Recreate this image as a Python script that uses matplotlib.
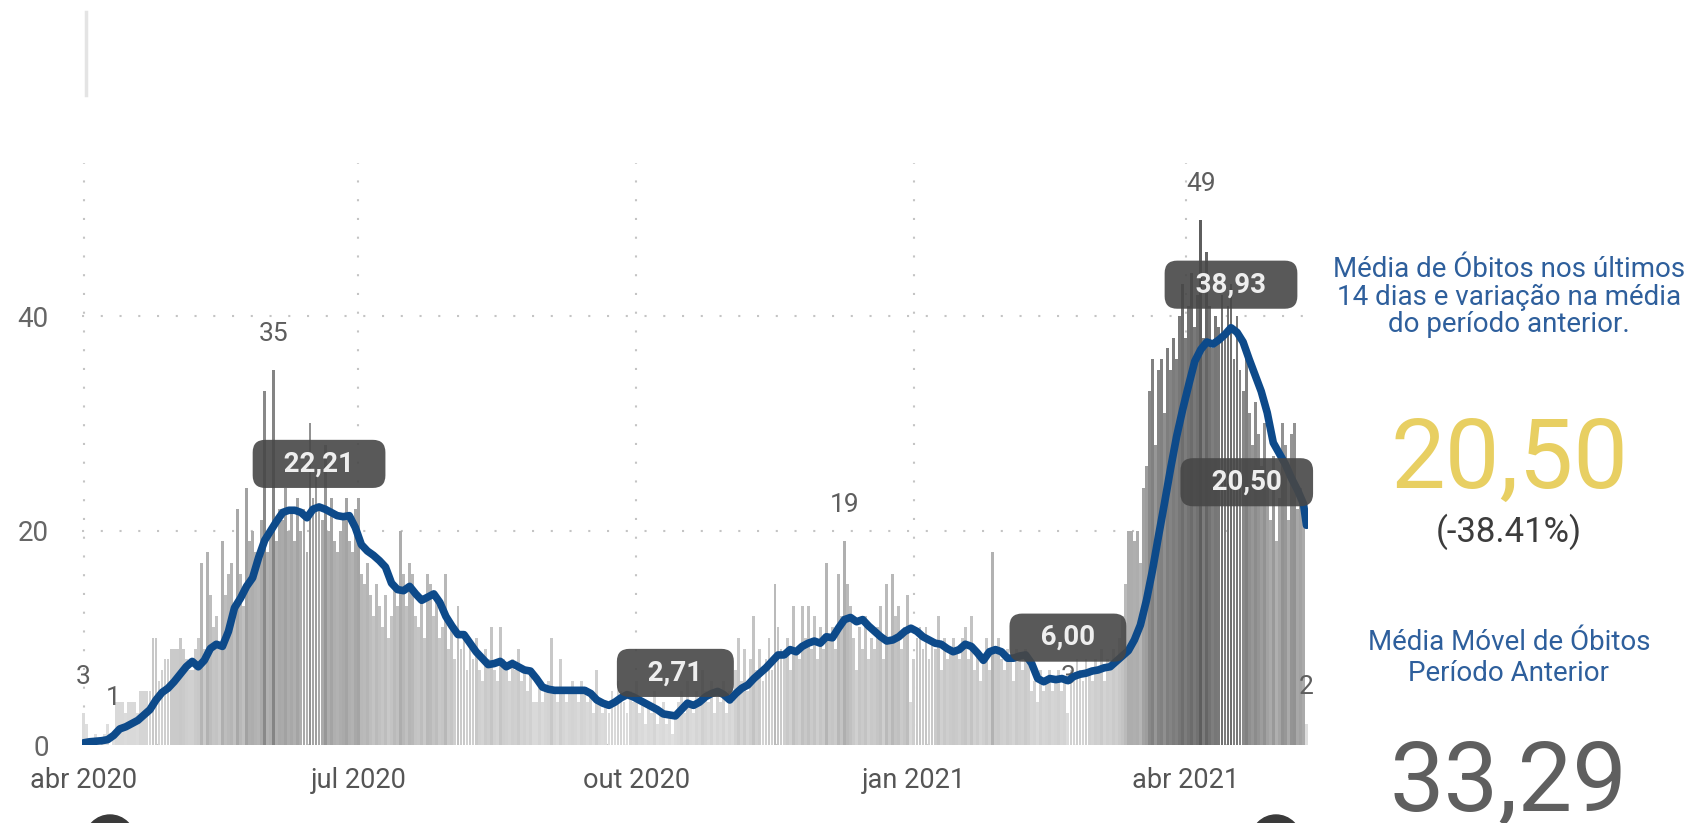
"""
Daily deaths with 14-day moving average (Power BI style panel)
"""
import pandas as pd
import matplotlib
matplotlib.use("Agg")
import matplotlib.pyplot as plt
from matplotlib.colors import LinearSegmentedColormap, Normalize
from matplotlib.patches import Circle
from matplotlib.lines import Line2D

plt.rcParams['font.family'] = ['Roboto', 'DejaVu Sans']

# ---- data -------------------------------------------------------------
start_date = "2020-04-01"

# daily deaths, one row per week
daily_deaths = [
    3, 2, 0, 0, 1, 0, 0,
    1, 2, 0, 1, 4, 4, 4,
    3, 4, 4, 4, 3, 5, 5,
    5, 5, 10, 10, 6, 7, 8,
    8, 9, 9, 9, 10, 9, 8,
    7, 7, 9, 10, 17, 9, 18,
    14, 11, 12, 9, 19, 14, 16,
    17, 13, 22, 16, 13, 24, 19,
    20, 18, 17, 21, 33, 18, 20,
    35, 19, 22, 21, 24, 20, 22,
    19, 23, 20, 22, 18, 30, 23,
    25, 22, 21, 28, 20, 23, 19,
    18, 20, 21, 23, 19, 18, 22,
    23, 16, 15, 17, 14, 12, 15,
    13, 11, 14, 10, 12, 15, 13,
    20, 16, 13, 17, 16, 12, 11,
    14, 10, 16, 15, 12, 14, 10,
    11, 16, 9, 11, 8, 13, 9,
    10, 7, 9, 8, 10, 7, 6,
    9, 8, 11, 7, 6, 11, 8,
    7, 6, 8, 7, 9, 6, 7,
    5, 7, 4, 4, 6, 4, 5,
    6, 10, 5, 4, 8, 5, 4,
    5, 6, 5, 4, 6, 5, 4,
    5, 3, 7, 4, 3, 4, 3,
    5, 4, 6, 5, 4, 3, 5,
    4, 6, 3, 4, 2, 4, 3,
    5, 2, 3, 4, 2, 3, 1,
    3, 4, 5, 3, 6, 4, 3,
    5, 4, 7, 5, 4, 6, 3,
    5, 4, 6, 3, 5, 4, 7,
    10, 6, 9, 5, 8, 12, 7,
    9, 6, 8, 10, 7, 15, 11,
    9, 8, 10, 7, 13, 9, 8,
    13, 10, 13, 9, 12, 8, 11,
    9, 17, 10, 11, 9, 16, 12,
    19, 15, 13, 10, 7, 11, 9,
    12, 8, 10, 9, 11, 13, 8,
    15, 10, 16, 12, 13, 9, 11,
    14, 4, 8, 10, 11, 9, 11,
    8, 10, 9, 12, 7, 10, 8,
    9, 10, 9, 8, 10, 11, 8,
    12, 7, 9, 6, 8, 10, 7,
    18, 9, 10, 8, 7, 9, 8,
    6, 9, 8, 7, 9, 8, 5,
    6, 4, 7, 5, 6, 7, 5,
    6, 7, 5, 6, 3, 7, 6,
    8, 7, 6, 8, 7, 6, 8,
    7, 9, 6, 8, 7, 9, 8,
    10, 12, 15, 20, 20, 19, 20,
    17, 24, 26, 33, 36, 28, 35,
    36, 31, 37, 35, 38, 36, 40,
    43, 38, 41, 44, 39, 42, 49,
    38, 46, 41, 37, 40, 39, 42,
    38, 41, 43, 36, 40, 35, 33,
    36, 31, 28, 32, 29, 26, 30,
    24, 21, 27, 19, 23, 30, 28,
    21, 29, 30, 22, 24, 21, 2,
]

# 14-day moving average, read every second day (plus the last day)
moving_avg = [
    0.2, 0.3, 0.35, 0.4, 0.5, 0.9, 1.5, 1.7, 2.0, 2.3,
    2.8, 3.3, 4.2, 4.9, 5.3, 5.9, 6.6, 7.3, 7.8, 7.3,
    7.9, 9.0, 9.4, 9.2, 10.6, 12.8, 13.7, 14.8, 15.6, 17.5,
    19.1, 20.0, 20.9, 21.7, 21.9, 21.9, 21.7, 21.2, 22.0, 22.21,
    22.0, 21.7, 21.4, 21.3, 21.4, 20.3, 18.7, 18.1, 17.7, 17.2,
    16.6, 15.1, 14.5, 14.4, 14.8, 14.1, 13.5, 13.8, 14.1, 13.3,
    12.0, 11.1, 10.3, 10.3, 9.5, 8.7, 8.1, 7.5, 7.6, 7.8,
    7.3, 7.6, 7.3, 7.0, 6.9, 6.2, 5.4, 5.2, 5.1, 5.1,
    5.1, 5.1, 5.1, 5.1, 4.8, 4.2, 3.9, 3.7, 4.0, 4.4,
    4.7, 4.5, 4.2, 3.9, 3.6, 3.3, 2.9, 2.8, 2.71, 3.3,
    3.9, 3.7, 4.0, 4.5, 4.8, 5.0, 4.7, 4.2, 4.8, 5.3,
    5.6, 6.2, 6.7, 7.2, 7.8, 8.4, 8.4, 8.9, 8.7, 9.2,
    9.5, 9.7, 9.5, 10.1, 10.0, 10.9, 11.7, 11.9, 11.5, 11.7,
    11.1, 10.6, 10.1, 9.7, 9.8, 10.1, 10.6, 10.9, 10.6, 10.1,
    9.8, 9.5, 9.4, 9.0, 8.7, 8.9, 9.4, 9.2, 8.6, 7.9,
    8.7, 8.9, 8.7, 8.1, 8.1, 8.3, 8.4, 7.6, 6.2, 5.9,
    6.2, 6.1, 6.2, 6.0, 6.4, 6.6, 6.7, 6.9, 7.0, 7.2,
    7.3, 7.8, 8.3, 8.8, 9.8, 11.2, 13.5, 16.3, 19.5, 22.6,
    25.8, 28.8, 31.3, 33.6, 35.8, 36.9, 37.6, 37.4, 37.8, 38.3,
    38.93, 38.5, 37.6, 36.0, 34.5, 33.0, 31.0, 28.2, 27.2, 26.2,
    24.9, 23.8, 22.5, 20.5,
]

month_ticks = ["2020-04-01", "2020-07-01", "2020-10-01", "2021-01-01", "2021-04-01"]
month_labels = ["abr 2020", "jul 2020", "out 2020", "jan 2021", "abr 2021"]

# points that carry a data label
bar_label_dates = ["2020-04-01", "2020-04-11", "2020-06-03", "2020-12-09",
                   "2021-02-21", "2021-04-06", "2021-05-11"]
avg_label_dates = ["2020-06-18", "2020-10-14", "2021-02-21", "2021-04-16", "2021-05-11"]

# ---- figure -----------------------------------------------------------
W, H = 1702, 823
fig = plt.figure(figsize=(W / 100, H / 100), dpi=100)
ax = fig.add_axes([82 / W, 1 - 745 / H, (1308 - 82) / W, (745 - 163) / H])

dates = pd.date_range(start_date, periods=len(daily_deaths), freq="D")
deaths = pd.Series(daily_deaths, index=dates)
ma_dates = list(dates[::2]) + [dates[-1]]
ma = pd.Series(moving_avg, index=ma_dates)

cmap = LinearSegmentedColormap.from_list("greys", ["#e3e3e3", "#5e5e5e"])
norm = Normalize(vmin=0, vmax=49)
ax.bar(dates, deaths.values, width=0.95, color=cmap(norm(deaths.values)),
       linewidth=0, zorder=2)

ax.plot(ma.index, ma.values, color="#0d4a8a", lw=5.5, zorder=4,
        solid_capstyle="round", solid_joinstyle="round")

# bar value labels
for d in bar_label_dates:
    v = deaths[pd.Timestamp(d)]
    ax.annotate(str(v), (pd.Timestamp(d), v), xytext=(0, 26),
                textcoords="offset points", ha="center", va="center",
                fontsize=19, color="#5e5e5e", zorder=3)

# moving average labels in dark boxes
avg_dx = [0, 0, 0, 0, -43]
for d, dx in zip(avg_label_dates, avg_dx):
    v = ma[pd.Timestamp(d)]
    txt = "   " + f"{v:.2f}".replace(".", ",") + "   "
    ax.annotate(txt, (pd.Timestamp(d), v), xytext=(dx, 31),
                textcoords="offset points", ha="center", va="center",
                fontsize=20, fontweight="bold", color="#eeeeee", zorder=5,
                bbox=dict(boxstyle="round,pad=0.38,rounding_size=0.45",
                          fc="#474747", ec="none", alpha=0.9))

ax.set_xlim(dates[0] - pd.Timedelta(hours=12), dates[-1] + pd.Timedelta(hours=12))
ax.set_ylim(0, 54.3)
ax.set_yticks([0, 20, 40])
ax.set_xticks(pd.to_datetime(month_ticks))
ax.set_xticklabels(month_labels)
ax.tick_params(axis="y", length=0, pad=24, labelsize=20, labelcolor="#666666")
ax.tick_params(axis="x", length=0, pad=16, labelsize=19.5, labelcolor="#555555")
for s in ax.spines.values():
    s.set_visible(False)
ax.grid(True, color="#c4c4c4", linestyle=(0, (1, 8)), linewidth=1.5, zorder=1)
ax.set_axisbelow(True)

# ---- right-hand KPI panel ----------------------------------------------
cx = 1509 / W
blue = "#2e5f9c"
fig.text(cx, 1 - 297 / H,
         "Média de Óbitos nos últimos\n14 dias e variação na média\ndo período anterior.",
         ha="center", va="center", fontsize=20, color=blue, linespacing=1.04)
fig.text(cx, 1 - 488 / H, "20,50", ha="center", va="baseline",
         fontsize=70, color="#e8cf62")
fig.text(cx, 1 - 532 / H, "(-38.41%)", ha="center", va="center",
         fontsize=25, color="#3c3c3c")
fig.text(cx, 1 - 658 / H, "Média Móvel de Óbitos\nPeríodo Anterior",
         ha="center", va="center", fontsize=20, color=blue, linespacing=1.15)
fig.text(cx, 1 - 811 / H, "33,29", ha="center", va="baseline",
         fontsize=70, color="#5f5f5f")

# faint frame edge and cut-off buttons from the dashboard
fig.add_artist(Line2D([86 / W, 86 / W], [1 - 12 / H, 1 - 95 / H],
                      color="#e4e4e4", lw=2.5))
for bx in (110, 1276):
    fig.add_artist(Circle((bx / 100, -0.17), 0.25, transform=fig.dpi_scale_trans,
                          color="#3a3a3a"))

fig.savefig("out.png", dpi=100)
